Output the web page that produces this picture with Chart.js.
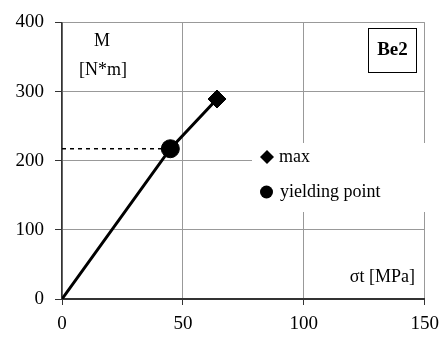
<!DOCTYPE html>
<html>
<head>
<meta charset="utf-8">
<script src="https://cdn.jsdelivr.net/npm/chart.js@4"></script>
<style>
  html, body { margin: 0; padding: 0; background: #fff; }
  #wrap { width: 447px; height: 344px; }
</style>
</head>
<body>
<div id="wrap"><canvas id="c" width="447" height="344"></canvas></div>
<script>
// curve of M against sigma_t, specimen Be2
const sigmaT = [0, 44.8, 64.1];
const moment = [0, 217.3, 289.2];
// marked points
const yieldPoint = { x: 44.8, y: 217.3 };
const maxPoint = { x: 64.1, y: 289.2 };
const xTicks = [0, 50, 100, 150];
const yTicks = [0, 100, 200, 300, 400];

const FONT = "'Liberation Serif', 'Times New Roman', serif";

const curve = sigmaT.map((x, i) => ({ x, y: moment[i] }));

// text labels, legend and specimen box drawn straight onto the canvas
const annotations = {
  id: 'annotations',
  beforeDatasetsDraw(chart) {
    const ctx = chart.ctx;
    ctx.save();
    // legend box hides the grid behind it
    ctx.fillStyle = '#fff';
    ctx.fillRect(252, 143, 173, 69);
    ctx.restore();
  },
  afterDraw(chart) {
    const ctx = chart.ctx;
    ctx.save();
    ctx.fillStyle = '#000';
    ctx.textBaseline = 'middle';

    ctx.font = '18px ' + FONT;
    ctx.textAlign = 'center';
    ctx.fillText('M', 102, 41);
    ctx.fillText('[N*m]', 103, 70);

    ctx.textAlign = 'right';
    ctx.fillText('\u03c3t [MPa]', 415, 277);

    // legend
    ctx.textAlign = 'left';
    ctx.fillText('max', 279, 157);
    ctx.fillText('yielding point', 280, 192);
    ctx.beginPath();
    ctx.moveTo(267, 150); ctx.lineTo(274, 157); ctx.lineTo(267, 164); ctx.lineTo(260, 157);
    ctx.closePath();
    ctx.fill();
    ctx.beginPath();
    ctx.arc(266.5, 192, 6.5, 0, Math.PI * 2);
    ctx.fill();

    // specimen box
    ctx.fillStyle = '#fff';
    ctx.fillRect(368, 28, 48, 45);
    ctx.strokeStyle = '#000';
    ctx.lineWidth = 1;
    ctx.strokeRect(368.5, 28.5, 48, 44);
    ctx.fillStyle = '#000';
    ctx.font = 'bold 19px ' + FONT;
    ctx.textAlign = 'center';
    ctx.fillText('Be2', 392.5, 50);
    ctx.restore();
  }
};

new Chart(document.getElementById('c'), {
  type: 'scatter',
  data: {
    datasets: [
      {
        label: 'max',
        data: [maxPoint],
        pointStyle: 'rectRot',
        pointRadius: 9,
        backgroundColor: '#000',
        borderColor: '#000',
        order: 0
      },
      {
        label: 'yielding point',
        data: [yieldPoint],
        pointStyle: 'circle',
        pointRadius: 9,
        backgroundColor: '#000',
        borderColor: '#000',
        order: 1
      },
      {
        label: 'curve',
        data: curve,
        showLine: true,
        borderColor: '#000',
        borderWidth: 3,
        pointRadius: 0,
        order: 2
      },
      {
        label: 'yield level',
        data: [{ x: 0, y: yieldPoint.y }, yieldPoint],
        showLine: true,
        borderColor: '#000',
        borderWidth: 1.5,
        borderDash: [4, 4],
        pointRadius: 0,
        order: 3
      }
    ]
  },
  options: {
    responsive: false,
    animation: false,
    layout: { padding: { top: 21, right: 20, left: 0, bottom: 0 } },
    plugins: {
      legend: { display: false },
      tooltip: { enabled: false }
    },
    scales: {
      x: {
        type: 'linear',
        min: 0,
        max: 150,
        afterBuildTicks: s => { s.ticks = xTicks.map(v => ({ value: v })); },
        afterFit: s => { s.height = 45; },
        ticks: { color: '#000', font: { family: FONT, size: 19 }, padding: 8, maxRotation: 0 },
        grid: { color: '#999', lineWidth: 1, tickColor: '#333', tickLength: 6 },
        border: { color: '#333', width: 2 }
      },
      y: {
        type: 'linear',
        min: 0,
        max: 400,
        afterBuildTicks: s => { s.ticks = yTicks.map(v => ({ value: v })); },
        afterFit: s => { s.width = 62; },
        ticks: { color: '#000', font: { family: FONT, size: 19 }, padding: 11 },
        grid: { color: '#999', lineWidth: 1, tickColor: '#333', tickLength: 7 },
        border: { color: '#333', width: 1.5 }
      }
    }
  },
  plugins: [annotations]
});
</script>
</body>
</html>
